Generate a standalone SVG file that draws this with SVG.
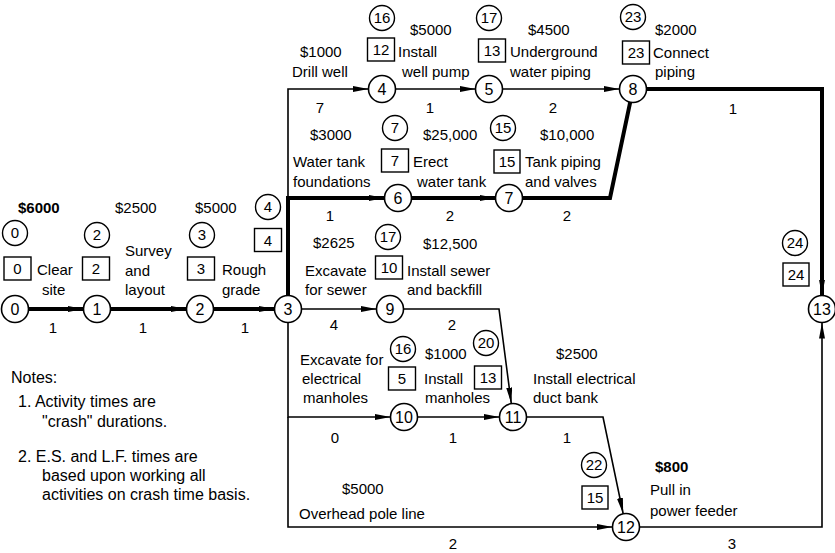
<svg xmlns="http://www.w3.org/2000/svg" width="835" height="553" viewBox="0 0 835 553">
<style>
text{font-family:"Liberation Sans",Arial,sans-serif;fill:#000}
.t{font-size:15px}
.b{font-size:15px;font-weight:bold}
.n{font-size:16px;text-anchor:middle}
.e{font-size:15px;text-anchor:middle}
.d{font-size:15px;text-anchor:middle}
.note{font-size:16px}
.node{fill:#fff;stroke:#000;stroke-width:1.6}
.es{fill:none;stroke:#000;stroke-width:1.4}
.lf{fill:none;stroke:#000;stroke-width:1.4}
.thin{fill:none;stroke:#000;stroke-width:1.6}
.thick{fill:none;stroke:#000;stroke-width:4}
</style>
<defs>
<marker id="ah" viewBox="0 0 16 6" markerWidth="16" markerHeight="6" refX="16" refY="3" orient="auto" markerUnits="userSpaceOnUse">
<path d="M0,0 L16,3 L0,6 z" fill="#000"/>
</marker>
</defs>
<rect width="835" height="553" fill="#fff"/>

<g id="connectors">
<path class="thin" d="M288,200 V89 H368.5" marker-end="url(#ah)"/>
<path class="thin" d="M395.5,89 H475.5" marker-end="url(#ah)"/>
<path class="thin" d="M502.5,89 H619.5" marker-end="url(#ah)"/>
<path class="thin" d="M301.5,309 H376.5" marker-end="url(#ah)"/>
<path class="thin" d="M403.5,309 H499 L511.3,403.6" marker-end="url(#ah)"/>
<path class="thin" d="M288,322.5 V417 H390.5" marker-end="url(#ah)"/>
<path class="thin" d="M417.5,417 H499.5" marker-end="url(#ah)"/>
<path class="thin" d="M526.5,417 H603 L623.2,513.8" marker-end="url(#ah)"/>
<path class="thin" d="M288,417 V527 H612.5" marker-end="url(#ah)"/>
<path class="thin" d="M639.5,527 H822 V322.5" marker-end="url(#ah)"/>
<path class="thick" d="M28.5,309 H83.5" marker-end="url(#ah)"/>
<path class="thick" d="M110.5,309 H186.5" marker-end="url(#ah)"/>
<path class="thick" d="M213.5,309 H274.5" marker-end="url(#ah)"/>
<path class="thick" d="M288,295.5 V198 H384.5" marker-end="url(#ah)"/>
<path class="thick" d="M411.5,198 H495.5" marker-end="url(#ah)"/>
<path class="thick" d="M522.5,198 H610 L630.2,102.2"/>
<path class="thick" d="M646.5,89 H822 V295.5" marker-end="url(#ah)"/>
</g>

<g id="durations">
<text class="d" x="53" y="333">1</text>
<text class="d" x="143" y="333">1</text>
<text class="d" x="245" y="333">1</text>
<text class="d" x="320" y="113">7</text>
<text class="d" x="430" y="113">1</text>
<text class="d" x="553" y="113">2</text>
<text class="d" x="733" y="114">1</text>
<text class="d" x="330" y="221">1</text>
<text class="d" x="450" y="221">2</text>
<text class="d" x="567" y="221">2</text>
<text class="d" x="334" y="330">4</text>
<text class="d" x="452" y="330">2</text>
<text class="d" x="335" y="443">0</text>
<text class="d" x="453" y="443">1</text>
<text class="d" x="567" y="443">1</text>
<text class="d" x="453" y="549">2</text>
<text class="d" x="732" y="549">3</text>
</g>

<g id="activity-labels">
<text class="b" x="18" y="213">$6000</text>
<text class="t" x="37" y="275">Clear</text>
<text class="t" x="42" y="295">site</text>
<text class="t" x="115" y="213">$2500</text>
<text class="t" x="125" y="256">Survey</text>
<text class="t" x="125" y="276">and</text>
<text class="t" x="125" y="295">layout</text>
<text class="t" x="195" y="213">$5000</text>
<text class="t" x="222" y="275">Rough</text>
<text class="t" x="222" y="295">grade</text>
<text class="t" x="300" y="57">$1000</text>
<text class="t" x="292" y="77">Drill well</text>
<text class="t" x="410" y="35">$5000</text>
<text class="t" x="398" y="57">Install</text>
<text class="t" x="402" y="77">well pump</text>
<text class="t" x="528" y="35">$4500</text>
<text class="t" x="510" y="57">Underground</text>
<text class="t" x="510" y="77">water piping</text>
<text class="t" x="655" y="35">$2000</text>
<text class="t" x="653" y="58">Connect</text>
<text class="t" x="655" y="77">piping</text>
<text class="t" x="310" y="140">$3000</text>
<text class="t" x="293" y="167">Water tank</text>
<text class="t" x="293" y="187">foundations</text>
<text class="t" x="423" y="140">$25,000</text>
<text class="t" x="413" y="167">Erect</text>
<text class="t" x="417" y="187">water tank</text>
<text class="t" x="540" y="140">$10,000</text>
<text class="t" x="525" y="167">Tank piping</text>
<text class="t" x="525" y="187">and valves</text>
<text class="t" x="313" y="248">$2625</text>
<text class="t" x="305" y="276">Excavate</text>
<text class="t" x="305" y="295">for sewer</text>
<text class="t" x="423" y="249">$12,500</text>
<text class="t" x="407" y="276">Install sewer</text>
<text class="t" x="407" y="295">and backfill</text>
<text class="t" x="300" y="365">Excavate for</text>
<text class="t" x="302" y="384">electrical</text>
<text class="t" x="303" y="403">manholes</text>
<text class="t" x="425" y="359">$1000</text>
<text class="t" x="424" y="384">Install</text>
<text class="t" x="425" y="403">manholes</text>
<text class="t" x="556" y="359">$2500</text>
<text class="t" x="533" y="384">Install electrical</text>
<text class="t" x="533" y="403">duct bank</text>
<text class="t" x="342" y="494">$5000</text>
<text class="t" x="299" y="519">Overhead pole line</text>
<text class="b" x="655" y="472">$800</text>
<text class="t" x="650" y="495">Pull in</text>
<text class="t" x="650" y="516">power feeder</text>
</g>

<g id="node-0">
<circle class="node" cx="15" cy="309" r="13.5"/><text class="n" x="15" y="314.5">0</text>
<circle class="es" cx="15" cy="233" r="12.5"/><text class="e" x="15" y="238">0</text>
<rect class="lf" x="4" y="257" width="27" height="23"/><text class="e" x="17.5" y="274">0</text>
</g>
<g id="node-1">
<circle class="node" cx="97" cy="309" r="13.5"/><text class="n" x="97" y="314.5">1</text>
<circle class="es" cx="97" cy="235" r="12.5"/><text class="e" x="97" y="240">2</text>
<rect class="lf" x="82.5" y="257" width="27" height="23"/><text class="e" x="96" y="274">2</text>
</g>
<g id="node-2">
<circle class="node" cx="200" cy="309" r="13.5"/><text class="n" x="200" y="314.5">2</text>
<circle class="es" cx="202" cy="235" r="12.5"/><text class="e" x="202" y="240">3</text>
<rect class="lf" x="187.5" y="257" width="27" height="23"/><text class="e" x="201" y="274">3</text>
</g>
<g id="node-3">
<circle class="node" cx="288" cy="309" r="13.5"/><text class="n" x="288" y="314.5">3</text>
<circle class="es" cx="268" cy="207" r="12.5"/><text class="e" x="268" y="212">4</text>
<rect class="lf" x="254.5" y="228.5" width="27" height="23"/><text class="e" x="268" y="245.5">4</text>
</g>
<g id="node-4">
<circle class="node" cx="382" cy="89" r="13.5"/><text class="n" x="382" y="94.5">4</text>
<circle class="es" cx="382" cy="18" r="12.5"/><text class="e" x="382" y="23">16</text>
<rect class="lf" x="367.5" y="38" width="27" height="23"/><text class="e" x="381" y="55">12</text>
</g>
<g id="node-5">
<circle class="node" cx="489" cy="89" r="13.5"/><text class="n" x="489" y="94.5">5</text>
<circle class="es" cx="489" cy="18" r="12.5"/><text class="e" x="489" y="23">17</text>
<rect class="lf" x="478.5" y="39" width="27" height="23"/><text class="e" x="492" y="56">13</text>
</g>
<g id="node-6">
<circle class="node" cx="398" cy="198" r="13.5"/><text class="n" x="398" y="203.5">6</text>
<circle class="es" cx="395" cy="128" r="12.5"/><text class="e" x="395" y="133">7</text>
<rect class="lf" x="381.5" y="149" width="27" height="23"/><text class="e" x="395" y="166">7</text>
</g>
<g id="node-7">
<circle class="node" cx="509" cy="198" r="13.5"/><text class="n" x="509" y="203.5">7</text>
<circle class="es" cx="503" cy="128" r="12.5"/><text class="e" x="503" y="133">15</text>
<rect class="lf" x="494" y="150" width="26" height="23"/><text class="e" x="507" y="167">15</text>
</g>
<g id="node-8">
<circle class="node" cx="633" cy="89" r="13.5"/><text class="n" x="633" y="94.5">8</text>
<circle class="es" cx="633" cy="17" r="12.5"/><text class="e" x="633" y="22">23</text>
<rect class="lf" x="622.5" y="41" width="27" height="23"/><text class="e" x="636" y="58">23</text>
</g>
<g id="node-9">
<circle class="node" cx="390" cy="309" r="13.5"/><text class="n" x="390" y="314.5">9</text>
<circle class="es" cx="388" cy="237" r="12.5"/><text class="e" x="388" y="242">17</text>
<rect class="lf" x="375.5" y="256" width="27" height="23"/><text class="e" x="389" y="273">10</text>
</g>
<g id="node-10">
<circle class="node" cx="404" cy="417" r="13.5"/><text class="n" x="404" y="422.5">10</text>
<circle class="es" cx="403" cy="349" r="12.5"/><text class="e" x="403" y="354">16</text>
<rect class="lf" x="388.5" y="367" width="27" height="23"/><text class="e" x="402" y="384">5</text>
</g>
<g id="node-11">
<circle class="node" cx="513" cy="417" r="13.5"/><text class="n" x="513" y="422.5">11</text>
<circle class="es" cx="486" cy="343" r="12.5"/><text class="e" x="486" y="348">20</text>
<rect class="lf" x="474.5" y="366" width="27" height="23"/><text class="e" x="488" y="383">13</text>
</g>
<g id="node-12">
<circle class="node" cx="626" cy="527" r="13.5"/><text class="n" x="626" y="532.5">12</text>
<circle class="es" cx="594" cy="465" r="12.5"/><text class="e" x="594" y="470">22</text>
<rect class="lf" x="582" y="486" width="26" height="23"/><text class="e" x="595" y="503">15</text>
</g>
<g id="node-13">
<circle class="node" cx="822" cy="309" r="13.5"/><text class="n" x="822" y="314.5">13</text>
<circle class="es" cx="795" cy="243" r="12.5"/><text class="e" x="795" y="248">24</text>
<rect class="lf" x="783" y="263" width="26" height="23"/><text class="e" x="796" y="280">24</text>
</g>

<g id="notes">
<text class="note" x="11" y="383">Notes:</text>
<text class="note" x="18" y="407">1. Activity times are</text>
<text class="note" x="42" y="427">"crash" durations.</text>
<text class="note" x="18" y="462">2. E.S. and L.F. times are</text>
<text class="note" x="42" y="481">based upon working all</text>
<text class="note" x="42" y="500">activities on crash time basis.</text>
</g>
</svg>
